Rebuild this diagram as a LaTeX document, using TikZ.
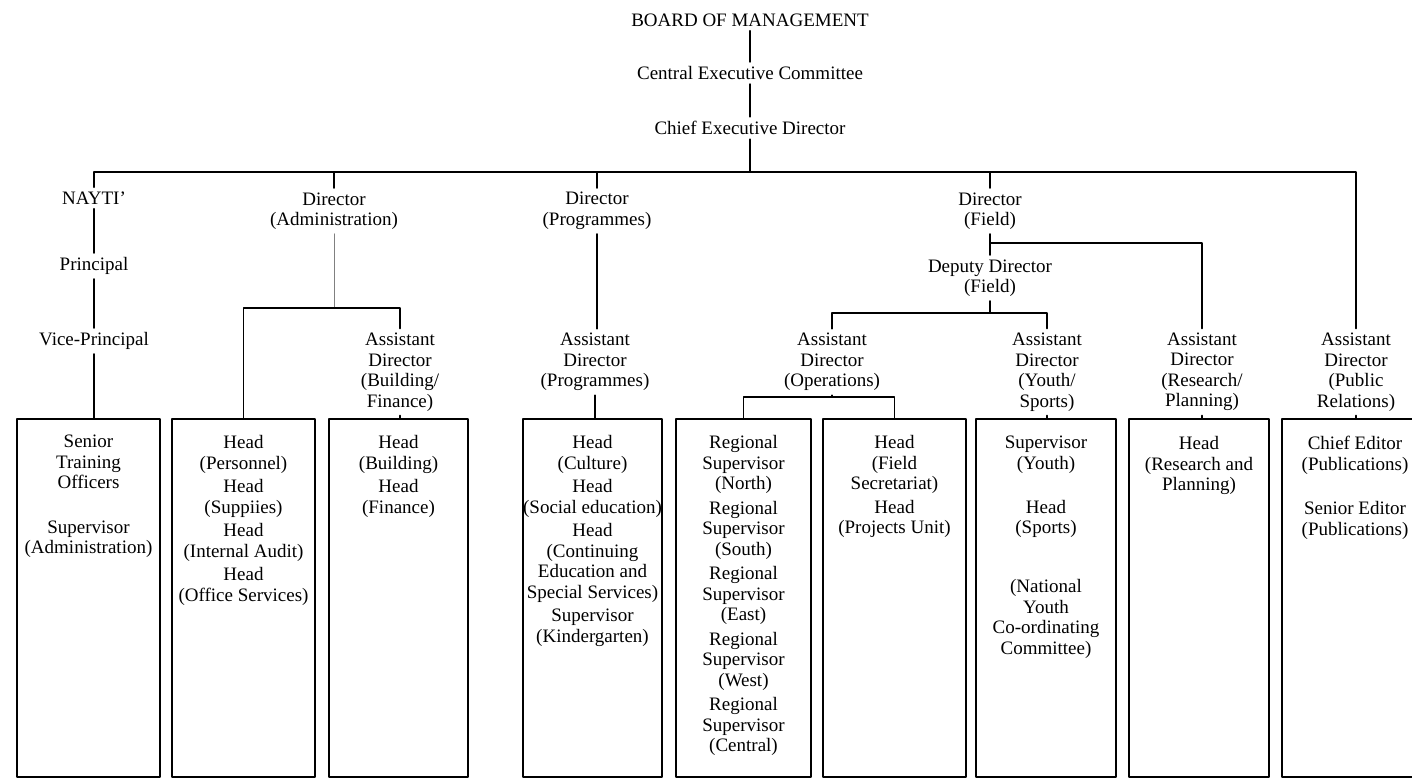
\documentclass[tikz,border=0pt]{standalone}
\usepackage{fontspec}
\setmainfont{Liberation Serif}
\usetikzlibrary{positioning}

\begin{document}
\begin{tikzpicture}[x=0.5pt,y=-0.5pt,line cap=round,line join=round,
    every node/.style={font=\fontsize{9.5}{10.25}\selectfont,align=center,inner sep=2pt},
    link/.style={line width=0.8pt},
    faint/.style={line width=0.5pt,color=gray},
    unit/.style={draw,line width=0.9pt,anchor=north,minimum height=179pt,inner sep=0pt},
    duties/.style={inner sep=0pt}]
  \useasboundingbox (0,0) rectangle (1412,780);

  % Top of the chart
  \node (board) at (750,20) {BOARD OF MANAGEMENT};
  \node (cec) at (750,73) {Central Executive Committee};
  \node (ced) at (750,128) {Chief Executive Director};
  \coordinate (bar) at (0,172);

  % Directors
  \node (nayti) at (94,198) {NAYTI'};
  \node (adm) at (334,211) {Director\\(Administration)};
  \node (prg) at (597,211) {Director\\(Programmes)};
  \node (fld) at (990,211) {Director\\(Field)};

  \node (principal) at (94,266) {Principal};
  \node (vice) at (94,341) {Vice-Principal};
  \node (dep) at (990,278) {Deputy Director\\(Field)};

  % Assistant directors
  \node (adb) at (400,372) {Assistant\\Director\\(Building/\\Finance)};
  \node (adp) at (595,362) {Assistant\\Director\\(Programmes)};
  \node (ado) at (832,362) {Assistant\\Director\\(Operations)};
  \node (ady) at (1047,372) {Assistant\\Director\\(Youth/\\Sports)};
  \node (adr) at (1202,372) {Assistant\\Director\\(Research/\\Planning)};
  \node (adpr) at (1356,372) {Assistant\\Director\\(Public\\Relations)};

  % Boxes at the bottom
  \node[unit,minimum width=71.5pt] (b1) at (88.5,418) {};
  \node[unit,minimum width=71.5pt] (b2) at (243.5,418) {};
  \node[unit,minimum width=69.5pt] (b3) at (398.5,418) {};
  \node[unit,minimum width=69.5pt] (b4) at (592.5,418) {};
  \node[unit,minimum width=67.5pt] (b5) at (743.5,418) {};
  \node[unit,minimum width=71.5pt] (b6) at (894.5,418) {};
  \node[unit,minimum width=70pt] (b7) at (1046,418) {};
  \node[unit,minimum width=70pt] (b8) at (1199,418) {};
  \node[unit,minimum width=73pt] (b9) at (1355,418) {};

  \node[duties,below=8.5pt of b1.north] (t1) {Senior\\Training\\Officers\\[12pt]Supervisor\\(Administration)};
  \node[duties,below=8.5pt of b2.north] (t2) {Head\\(Personnel)\\[1.5pt]Head\\(Suppiies)\\[1.5pt]Head\\(Internal Audit)\\[1.5pt]Head\\(Office Services)};
  \node[duties,below=8.5pt of b3.north] (t3) {Head\\(Building)\\[1.5pt]Head\\(Finance)};
  \node[duties,below=8.5pt of b4.north] (t4) {Head\\(Culture)\\[1.5pt]Head\\(Social education)\\[1.5pt]Head\\(Continuing\\Education and\\Special Services)\\[1.5pt]Supervisor\\(Kindergarten)};
  \node[duties,below=8.5pt of b5.north] (t5) {Regional\\Supervisor\\(North)\\[2pt]Regional\\Supervisor\\(South)\\[2pt]Regional\\Supervisor\\(East)\\[2pt]Regional\\Supervisor\\(West)\\[2pt]Regional\\Supervisor\\(Central)};
  \node[duties,below=8.5pt of b6.north] (t6) {Head\\(Field\\Secretariat)\\[1.5pt]Head\\(Projects Unit)};
  \node[duties,below=9pt of b7.north] (t7) {Supervisor\\(Youth)\\[11.75pt]Head\\(Sports)\\[19.25pt](National\\Youth\\Co-ordinating\\Committee)};
  \node[duties,below=9pt of b8.north] (t8) {Head\\(Research and\\Planning)};
  \node[duties,below=9pt of b9.north] (t9) {Chief Editor\\(Publications)\\[12pt]Senior Editor\\(Publications)};

  % Connecting lines
  \draw[link] (board) -- (cec);
  \draw[link] (cec) -- (ced);
  \draw[link] (ced) -- (ced |- bar);
  \draw[link] (nayti) -- (nayti |- bar) -- (adpr |- bar) -- (adpr);
  \draw[link] (adm |- bar) -- (adm);
  \draw[link] (prg |- bar) -- (prg);
  \draw[link] (fld |- bar) -- (fld);

  \draw[link] (nayti) -- (principal);
  \draw[link] (principal) -- (vice);
  \draw[link] (vice) -- (vice |- b1.north);

  \coordinate (admfork) at (0,308);
  \draw[faint] (adm) -- (adm |- admfork);
  \draw[link] (b2.north) -- (b2.north |- admfork) -- (adb |- admfork) -- (adb);
  \draw[link] (adb) -- (adb |- b3.north);

  \draw[link] (prg) -- (prg |- adp.north);
  \draw[link] (adp) -- (adp |- b4.north);

  \coordinate (fldfork) at (0,243);
  \draw[link] (fld) -- (dep);
  \draw[link] (fld |- fldfork) -- (adr |- fldfork) -- (adr);

  \coordinate (depfork) at (0,313);
  \draw[link] (dep) -- (dep |- depfork);
  \draw[link] (ado) -- (ado |- depfork) -- (ady |- depfork) -- (ady);

  \coordinate (opsfork) at (0,397);
  \draw[link] (ado) -- (ado |- opsfork);
  \draw[link] (b5.north) -- (b5.north |- opsfork) -- (b6.north |- opsfork) -- (b6.north);

  \draw[link] (ady) -- (ady |- b7.north);
  \draw[link] (adr) -- (adr |- b8.north);
  \draw[link] (adpr) -- (adpr |- b9.north);
\end{tikzpicture}
\end{document}
